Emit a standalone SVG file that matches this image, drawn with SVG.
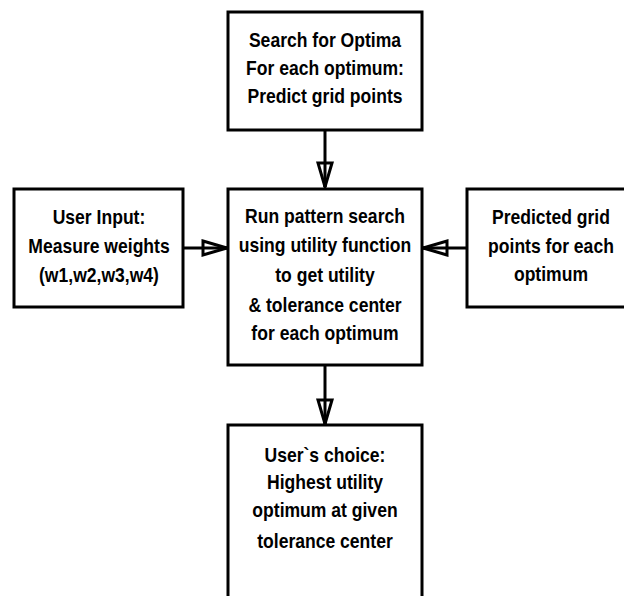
<svg xmlns="http://www.w3.org/2000/svg" width="624" height="596" viewBox="0 0 624 596">
<style>
.box{fill:#fff;stroke:#000;stroke-width:3}
.t{font-family:"Liberation Sans",Arial,sans-serif;font-weight:bold;font-size:19.5px;text-anchor:middle;fill:#000}
.c{stroke:#000;stroke-width:3;fill:none}
</style>
<defs>
<marker id="ah" markerUnits="userSpaceOnUse" markerWidth="30" markerHeight="20" refX="24" refY="7" orient="auto" overflow="visible">
<path d="M0,0 L24,7 L0,14 Z" fill="#fff" stroke="#000" stroke-width="3" stroke-linejoin="miter"/>
<path d="M0,7 L24,7" stroke="#000" stroke-width="3"/>
</marker>
</defs>
<rect width="624" height="596" fill="#fff"/>
<g id="connectors">
<line class="c" x1="325" y1="130" x2="325" y2="187" marker-end="url(#ah)"/>
<line class="c" x1="183" y1="248" x2="227" y2="248" marker-end="url(#ah)"/>
<line class="c" x1="467" y1="248" x2="423" y2="248" marker-end="url(#ah)"/>
<line class="c" x1="325" y1="365" x2="325" y2="424" marker-end="url(#ah)"/>
</g>
<g id="n-search">
<rect class="box" x="228" y="12" width="194" height="118"/>
<g transform="scale(0.9 1)">
<text class="t" x="361.1" y="47">Search for Optima</text>
<text class="t" x="361.1" y="75">For each optimum:</text>
<text class="t" x="361.1" y="103">Predict grid points</text>
</g>
</g>
<g id="n-user-input">
<rect class="box" x="14" y="189" width="169" height="118"/>
<g transform="scale(0.9 1)">
<text class="t" x="110" y="224">User Input:</text>
<text class="t" x="110" y="253">Measure weights</text>
<text class="t" x="110" y="282">(w1,w2,w3,w4)</text>
</g>
</g>
<g id="n-pattern">
<rect class="box" x="228" y="189" width="194" height="176"/>
<g transform="scale(0.9 1)">
<text class="t" x="361.1" y="223">Run pattern search</text>
<text class="t" x="361.1" y="252">using utility function</text>
<text class="t" x="361.1" y="282">to get utility</text>
<text class="t" x="361.1" y="312">&amp; tolerance center</text>
<text class="t" x="361.1" y="340">for each optimum</text>
</g>
</g>
<g id="n-predicted">
<rect class="box" x="467" y="189" width="170" height="118"/>
<g transform="scale(0.9 1)">
<text class="t" x="612.2" y="224">Predicted grid</text>
<text class="t" x="612.2" y="253">points for each</text>
<text class="t" x="612.2" y="281">optimum</text>
</g>
</g>
<g id="n-choice">
<rect class="box" x="228" y="425" width="194" height="190"/>
<g transform="scale(0.9 1)">
<text class="t" x="361.1" y="462">User`s choice:</text>
<text class="t" x="361.1" y="489">Highest utility</text>
<text class="t" x="361.1" y="517">optimum at given</text>
<text class="t" x="361.1" y="548">tolerance center</text>
</g>
</g>
</svg>
